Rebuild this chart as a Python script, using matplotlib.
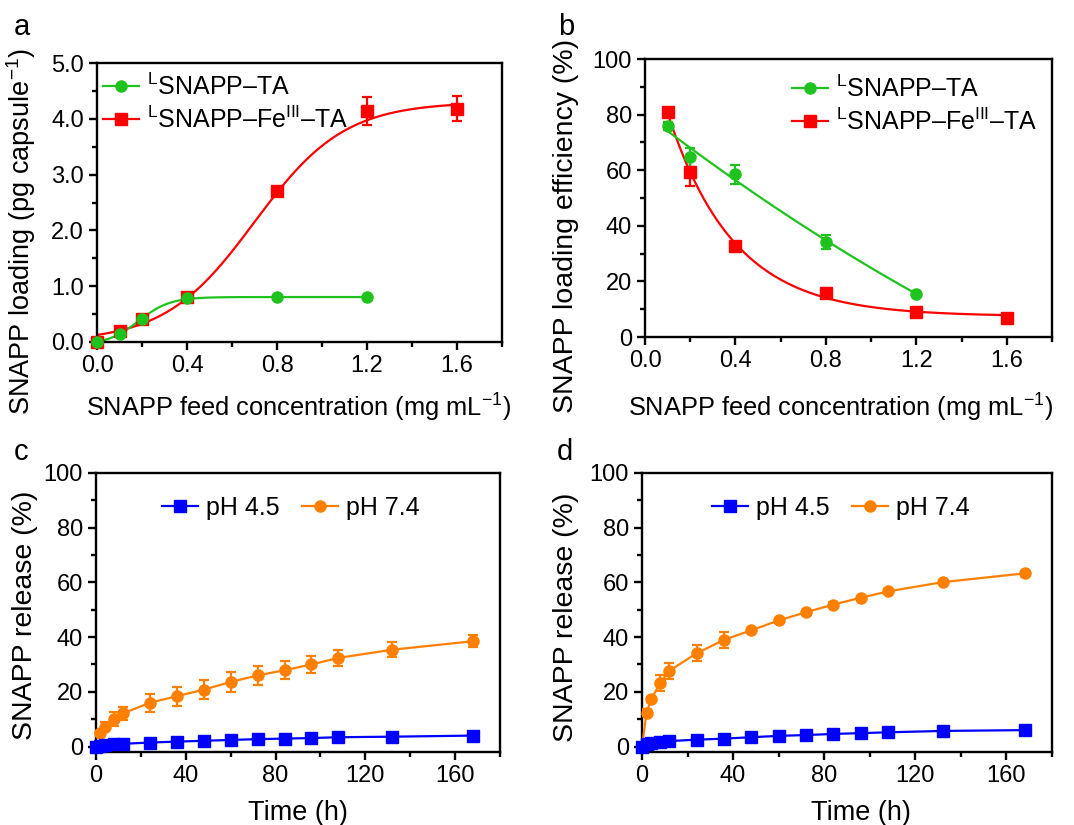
import numpy as np
import matplotlib
matplotlib.use("Agg")
import matplotlib.pyplot as plt
from matplotlib.lines import Line2D

plt.rcParams['font.family'] = ['Liberation Sans', 'DejaVu Sans']
plt.rcParams['mathtext.fontset'] = 'custom'
plt.rcParams['mathtext.rm'] = 'Liberation Sans'
plt.rcParams['font.size'] = 18

# ---------------- data ----------------
# panel a: loading vs feed concentration
a_x_ta = [0.0, 0.1, 0.2, 0.4, 0.8, 1.2]
a_y_ta = [0.0, 0.15, 0.42, 0.78, 0.80, 0.80]
a_e_ta = [0.02, 0.03, 0.04, 0.04, 0.03, 0.03]
a_x_fe = [0.0, 0.1, 0.2, 0.4, 0.8, 1.2, 1.6]
a_y_fe = [0.0, 0.20, 0.42, 0.80, 2.70, 4.14, 4.18]
a_e_fe = [0.03, 0.05, 0.05, 0.05, 0.08, 0.25, 0.22]
# Boltzmann fit parameters of the red curve (A1, A2, x0, dx)
a_fit_fe = (0.0, 4.3, 0.70, 0.20)

# panel b: loading efficiency
b_x_ta = [0.1, 0.2, 0.4, 0.8, 1.2]
b_y_ta = [75.9, 64.6, 58.5, 34.2, 15.6]
b_e_ta = [1.5, 3.5, 3.5, 2.5, 0.8]
b_x_fe = [0.1, 0.2, 0.4, 0.8, 1.2, 1.6]
b_y_fe = [80.8, 59.2, 32.8, 15.8, 9.0, 7.0]
b_e_fe = [1.2, 5.0, 1.2, 1.0, 0.8, 0.8]

# panel c: release (SNAPP-TA)
c_t_45 = [0, 2, 4, 8, 12, 24, 36, 48, 60, 72, 84, 96, 108, 132, 168]
c_y_45 = [0.0, 0.3, 0.5, 0.8, 1.0, 1.45, 1.8, 2.1, 2.4, 2.7, 2.9, 3.1, 3.4, 3.6, 4.0]
c_e_45 = [0.1, 0.2, 0.2, 0.2, 0.2, 0.3, 0.3, 0.3, 0.3, 0.3, 0.3, 0.3, 0.3, 0.3, 0.3]
c_t_74 = [2, 4, 8, 12, 24, 36, 48, 60, 72, 84, 96, 108, 132, 168]
c_y_74 = [4.8, 7.3, 10.0, 12.1, 16.0, 18.4, 20.8, 23.6, 26.0, 27.9, 30.0, 32.4, 35.4, 38.5]
c_e_74 = [0.8, 1.5, 2.5, 2.5, 3.2, 3.5, 3.5, 3.5, 3.5, 3.3, 3.2, 3.0, 2.8, 2.2]

# panel d: release (SNAPP-Fe-TA)
d_t_45 = [0, 2, 4, 8, 12, 24, 36, 48, 60, 72, 84, 96, 108, 132, 168]
d_y_45 = [0.0, 0.8, 1.2, 1.6, 2.0, 2.5, 2.9, 3.4, 3.9, 4.2, 4.6, 4.9, 5.2, 5.7, 6.0]
d_e_45 = [0.1, 0.2, 0.2, 0.2, 0.2, 0.2, 0.2, 0.2, 0.2, 0.2, 0.2, 0.2, 0.2, 0.2, 0.2]
d_t_74 = [0, 2, 4, 8, 12, 24, 36, 48, 60, 72, 84, 96, 108, 132, 168]
d_y_74 = [0.0, 12.4, 17.2, 23.3, 27.7, 34.1, 39.0, 42.5, 46.1, 49.1, 51.9, 54.4, 56.7, 60.1, 63.3]
d_e_74 = [0.0, 1.2, 1.0, 3.0, 3.0, 3.0, 2.8, 1.0, 0.8, 0.8, 0.8, 0.8, 0.8, 0.8, 0.8]

conc_ticks = ['0.0', '0.4', '0.8', '1.2', '1.6']
load_ticks = ['0.0', '1.0', '2.0', '3.0', '4.0', '5.0']

lab_ta = r'$^{\mathregular{L}}$SNAPP–TA'
lab_fe = r'$^{\mathregular{L}}$SNAPP–Fe$^{\mathregular{III}}$–TA'
lab_45 = 'pH 4.5'
lab_74 = 'pH 7.4'

GREEN = '#1EC31E'
RED = '#FF0000'
BLUE = '#0000FF'
ORANGE = '#FF8000'

TICK_FS = 17
LEG_FS = 18
YLAB_FS = 20.5


def boltzmann(xx, p):
    A1, A2, x0, dx = p
    return A2 + (A1 - A2) / (1.0 + np.exp((xx - x0) / dx))


def boltzmann_fit(x, y):
    x = np.asarray(x, float); y = np.asarray(y, float)
    best = None
    for x0 in np.linspace(0.0, 1.5, 301):
        for dx in np.linspace(0.02, 0.6, 117):
            s = 1.0 / (1.0 + np.exp((x - x0) / dx))
            M = np.column_stack([s, 1 - s])
            coef, *_ = np.linalg.lstsq(M, y, rcond=None)
            sse = np.sum((M @ coef - y) ** 2)
            if best is None or sse < best[0]:
                best = (sse, x0, dx, coef)
    _, x0, dx, (A1, A2) = best
    return lambda xx: boltzmann(xx, (A1, A2, x0, dx))


def expdec_fit(x, y):
    x = np.asarray(x, float); y = np.asarray(y, float)
    best = None
    for t in np.linspace(0.05, 1.5, 600):
        M = np.column_stack([np.ones_like(x), np.exp(-x / t)])
        coef, *_ = np.linalg.lstsq(M, y, rcond=None)
        sse = np.sum((M @ coef - y) ** 2)
        if best is None or sse < best[0]:
            best = (sse, t, coef)
    _, t, (y0, A) = best
    return lambda xx: y0 + A * np.exp(-xx / t)


fig = plt.figure(figsize=(10.74, 8.25), dpi=100)
W, H = 1074, 825


def add_ax(l, t, r, b):
    return fig.add_axes([l / W, 1 - b / H, (r - l) / W, (b - t) / H])


axa = add_ax(97, 63, 502, 342)
axb = add_ax(645, 59, 1052, 337)
axc = add_ax(96, 473, 500, 752)
axd = add_ax(642, 473, 1052, 752)

MS_O = 8
MS_S = 8.5
LW = 1.6


def style(ax):
    for s in ax.spines.values():
        s.set_linewidth(1.7)
    ax.tick_params(which='both', direction='out', width=1.7, top=False, right=False,
                   pad=4, labelsize=TICK_FS)
    ax.tick_params(which='major', length=5.5)
    ax.tick_params(which='minor', length=3.5)


def series(ax, x, y, e, color, marker, fitfun=None):
    ms = MS_O if marker == 'o' else MS_S
    if fitfun is not None:
        xx = np.linspace(min(x), max(x), 300)
        ax.plot(xx, fitfun(xx), color=color, lw=LW, zorder=2)
        ax.errorbar(x, y, yerr=e, fmt=marker, color=color, ms=ms, ecolor=color,
                    elinewidth=1.6, capsize=3.6, capthick=1.6, zorder=3, clip_on=False)
    else:
        ax.errorbar(x, y, yerr=e, fmt='-' + marker, color=color, ms=ms, lw=LW, ecolor=color,
                    elinewidth=1.6, capsize=3.6, capthick=1.6, zorder=3, clip_on=False)


def handles(c1, m1, c2, m2):
    return [Line2D([], [], color=c1, marker=m1, ms=MS_O if m1 == 'o' else MS_S, lw=LW),
            Line2D([], [], color=c2, marker=m2, ms=MS_O if m2 == 'o' else MS_S, lw=LW)]


def px_axes(ax, l, t, r, b, px, py):
    return ((px - l) / (r - l), (b - py) / (b - t))


# ---- panel a ----
series(axa, a_x_fe, a_y_fe, a_e_fe, RED, 's', lambda xx: boltzmann(xx, a_fit_fe))
series(axa, a_x_ta, a_y_ta, a_e_ta, GREEN, 'o', boltzmann_fit(a_x_ta, a_y_ta))
axa.set_xlim(0, 1.8)
axa.set_ylim(0, 5)
axa.set_xticks([0, 0.4, 0.8, 1.2, 1.6])
axa.set_xticklabels(conc_ticks)
axa.set_xticks(np.arange(0, 1.81, 0.2), minor=True)
axa.set_yticks(np.arange(0, 5.01, 1.0))
axa.set_yticklabels(load_ticks)
axa.set_yticks(np.arange(0, 5.01, 0.5), minor=True)
axa.set_xlabel(r'SNAPP feed concentration (mg mL$^{\mathregular{-1}}$)', fontsize=18.3)
axa.set_ylabel(r'SNAPP loading (pg capsule$^{\mathregular{-1}}$)', fontsize=19.5)
style(axa)
A = (97, 63, 502, 342)
axa.xaxis.set_label_coords(*px_axes(axa, *A, 298, 392))
axa.yaxis.set_label_coords(*px_axes(axa, *A, 38, 232))
axa.legend(handles(GREEN, 'o', RED, 's'), [lab_ta, lab_fe], loc='center left',
           bbox_to_anchor=px_axes(axa, *A, 103, 103), frameon=False, fontsize=LEG_FS,
           handlelength=1.45, handletextpad=0.3, labelspacing=0.25, borderpad=0, borderaxespad=0)

# ---- panel b ----
pfit = np.polyfit(b_x_ta, b_y_ta, 2)
series(axb, b_x_fe, b_y_fe, b_e_fe, RED, 's', expdec_fit(b_x_fe, b_y_fe))
series(axb, b_x_ta, b_y_ta, b_e_ta, GREEN, 'o', lambda xx: np.polyval(pfit, xx))
axb.set_xlim(0, 1.8)
axb.set_ylim(0, 100)
axb.set_xticks([0, 0.4, 0.8, 1.2, 1.6])
axb.set_xticklabels(conc_ticks)
axb.set_xticks(np.arange(0, 1.81, 0.2), minor=True)
axb.set_yticks(np.arange(0, 101, 20))
axb.set_yticks(np.arange(0, 101, 10), minor=True)
axb.set_xlabel(r'SNAPP feed concentration (mg mL$^{\mathregular{-1}}$)', fontsize=18.3)
axb.set_ylabel('SNAPP loading efficiency (%)', fontsize=YLAB_FS)
style(axb)
B = (645, 59, 1052, 337)
axb.xaxis.set_label_coords(*px_axes(axb, *B, 840, 392))
axb.yaxis.set_label_coords(*px_axes(axb, *B, 579, 226))
axb.legend(handles(GREEN, 'o', RED, 's'), [lab_ta, lab_fe], loc='center left',
           bbox_to_anchor=px_axes(axb, *B, 792, 105), frameon=False, fontsize=LEG_FS,
           handlelength=1.45, handletextpad=0.3, labelspacing=0.25, borderpad=0, borderaxespad=0)

# ---- panels c, d ----
C = (96, 473, 500, 752)
D = (642, 473, 1052, 752)
for ax, box, t45, y45, e45, t74, y74, e74, xl, yl, lg in [
        (axc, C, c_t_45, c_y_45, c_e_45, c_t_74, c_y_74, c_e_74, (298, 800), (38, 615), 162),
        (axd, D, d_t_45, d_y_45, d_e_45, d_t_74, d_y_74, d_e_74, (861, 800), (579, 617), 712)]:
    series(ax, t74, y74, e74, ORANGE, 'o')
    series(ax, t45, y45, e45, BLUE, 's')
    ax.set_xlim(0, 180)
    ax.set_ylim(-2, 100)
    ax.set_xticks(np.arange(0, 161, 40))
    ax.set_xticks(np.arange(0, 181, 20), minor=True)
    ax.set_yticks(np.arange(0, 101, 20))
    ax.set_yticks(np.arange(0, 101, 10), minor=True)
    ax.set_xlabel('Time (h)', fontsize=19.5)
    ax.set_ylabel('SNAPP release (%)', fontsize=YLAB_FS)
    style(ax)
    ax.xaxis.set_label_coords(*px_axes(ax, *box, *xl))
    ax.yaxis.set_label_coords(*px_axes(ax, *box, *yl))
    ax.legend(handles(BLUE, 's', ORANGE, 'o'), [lab_45, lab_74], loc='center left',
              bbox_to_anchor=px_axes(ax, *box, lg, 508), ncol=2, frameon=False, fontsize=LEG_FS,
              handlelength=1.45, handletextpad=0.3, columnspacing=0.9, borderpad=0,
              borderaxespad=0)

for lbl, x, y in [('a', 14, 35), ('b', 558, 35), ('c', 14, 460), ('d', 557, 460)]:
    fig.text(x / W, 1 - y / H, lbl, fontsize=21, ha='left', va='baseline')

fig.savefig('out.png', dpi=100)
